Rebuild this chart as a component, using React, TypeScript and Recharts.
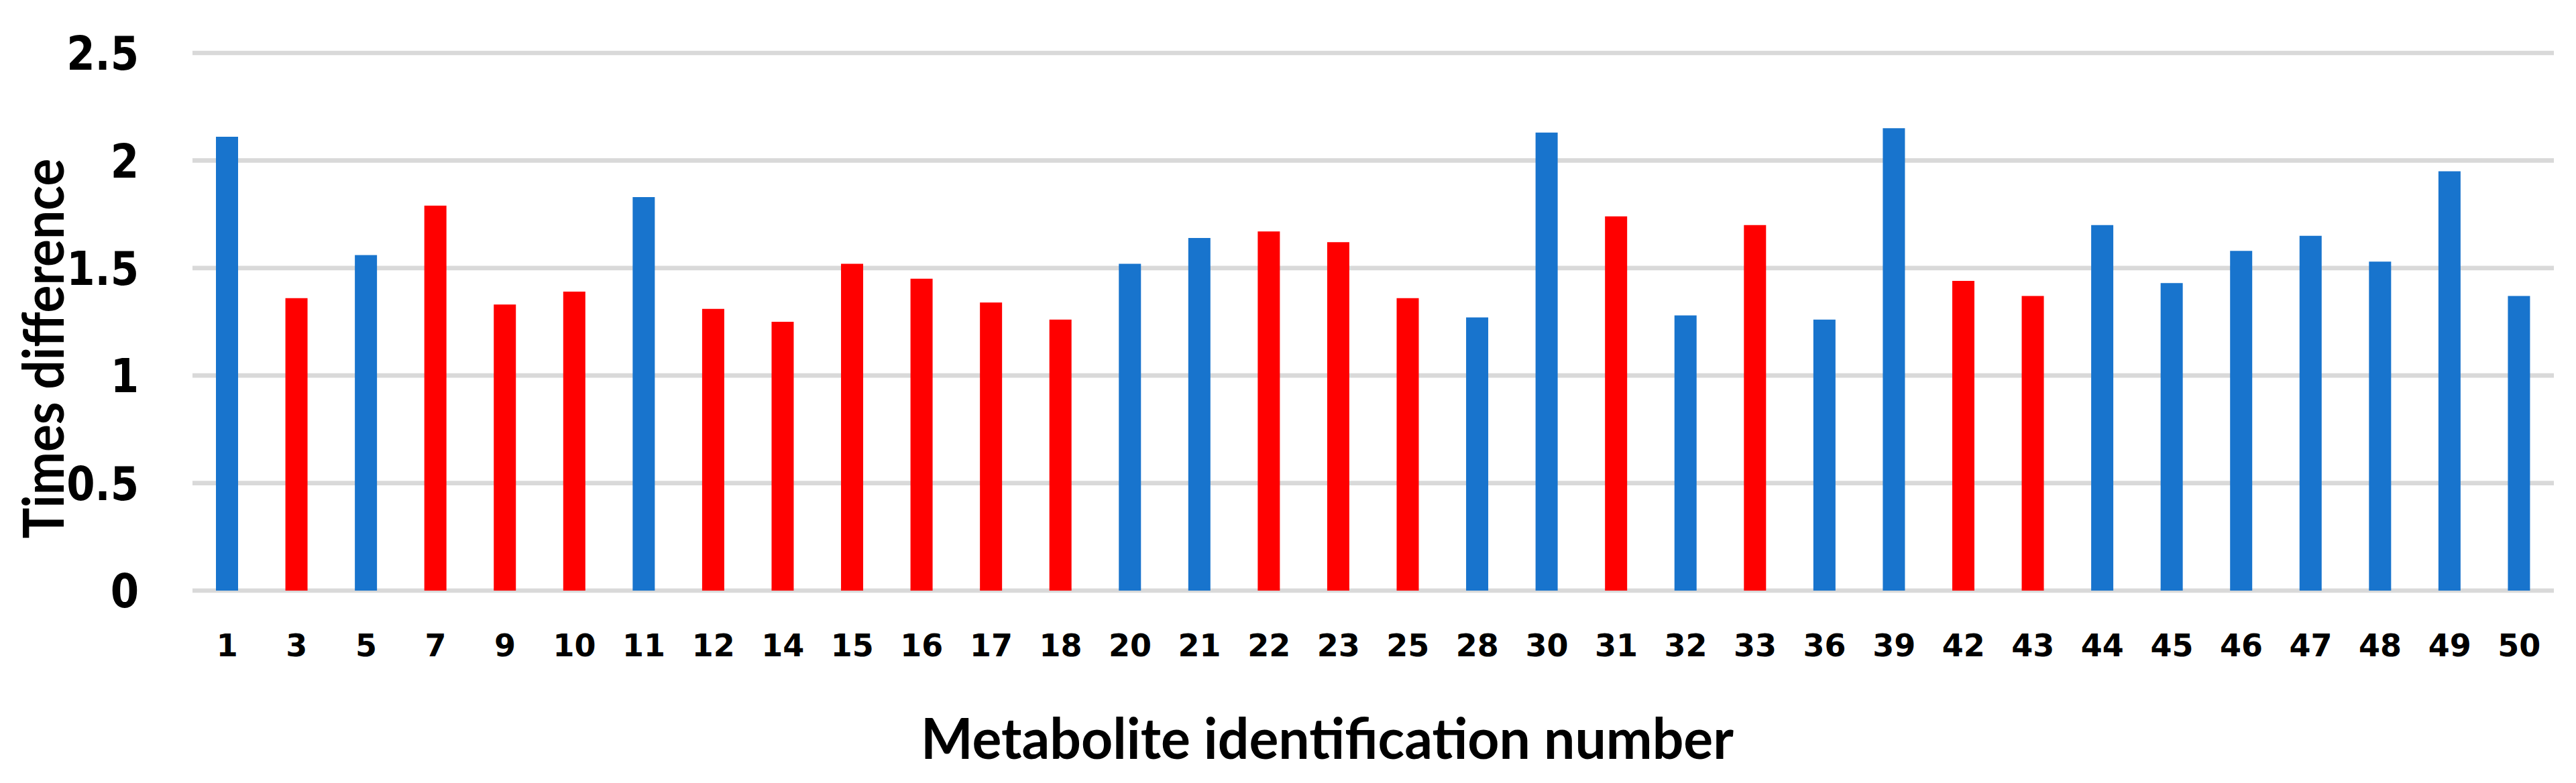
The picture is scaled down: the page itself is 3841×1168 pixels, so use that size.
import { Bar, BarChart, CartesianGrid, Cell, Label, XAxis, YAxis } from 'recharts';

const metaboliteIds = [
  '1', '3', '5', '7', '9', '10', '11', '12', '14', '15', '16', '17', '18', '20', '21', '22', '23',
  '25', '28', '30', '31', '32', '33', '36', '39', '42', '43', '44', '45', '46', '47', '48', '49', '50',
];

const timesDifference = [
  2.11, 1.36, 1.56, 1.79, 1.33, 1.39, 1.83, 1.31, 1.25, 1.52, 1.45, 1.34, 1.26, 1.52, 1.64, 1.67, 1.62,
  1.36, 1.27, 2.13, 1.74, 1.28, 1.7, 1.26, 2.15, 1.44, 1.37, 1.7, 1.43, 1.58, 1.65, 1.53, 1.95, 1.37,
];

// 'b' = blue bar, 'r' = red bar
const barGroup = [
  'b', 'r', 'b', 'r', 'r', 'r', 'b', 'r', 'r', 'r', 'r', 'r', 'r', 'b', 'b', 'r', 'r',
  'r', 'b', 'b', 'r', 'b', 'r', 'b', 'b', 'r', 'r', 'b', 'b', 'b', 'b', 'b', 'b', 'b',
];

const yTicks = [0, 0.5, 1, 1.5, 2, 2.5];

const COLORS: Record<string, string> = { b: '#1874cd', r: '#ff0000' };

const data = metaboliteIds.map((id, i) => ({ id, value: timesDifference[i], group: barGroup[i] }));

const tickFont = { fontFamily: '"DejaVu Sans", Verdana, sans-serif', fontWeight: 'bold', fill: '#000' };
const titleFont = { fontFamily: 'Lato, "Open Sans", sans-serif', fontWeight: 'bold', fill: '#000' };

// y tick labels: wide bold digits, squeezed a little horizontally
function YTick(props: any) {
  const { x, y, payload } = props;
  return (
    <text
      x={0}
      y={0}
      dy="0.36em"
      transform={`translate(${x},${y}) scale(0.87,1)`}
      textAnchor="end"
      fontSize={70}
      {...tickFont}
    >
      {payload.value}
    </text>
  );
}

export default function App() {
  return (
    <div style={{ position: 'absolute', left: 0, top: 0, background: '#fff' }}>
      <BarChart width={3841} height={1168} data={data} margin={{ top: 79, right: 33, bottom: 0, left: 0 }}>
        <CartesianGrid vertical={false} stroke="#d9d9d9" strokeWidth={6.7} />
        <XAxis
          dataKey="id"
          interval={0}
          height={287}
          axisLine={false}
          tickLine={false}
          tickSize={0}
          tickMargin={65}
          tick={{ ...tickFont, fontSize: 46 }}
        >
          <Label
            content={() => (
              <text
                x={1979}
                y={1132}
                textAnchor="middle"
                fontSize={84}
                textLength={1212}
                lengthAdjust="spacingAndGlyphs"
                {...titleFont}
              >
                Metabolite identification number
              </text>
            )}
          />
        </XAxis>
        <YAxis
          domain={[0, 2.5]}
          ticks={yTicks}
          width={287}
          axisLine={false}
          tickLine={false}
          tickSize={0}
          tickMargin={80}
          tick={<YTick />}
        >
          <Label
            content={() => (
              <text
                x={95}
                y={520}
                transform="rotate(-90, 95, 520)"
                textAnchor="middle"
                fontSize={84}
                textLength={567}
                lengthAdjust="spacingAndGlyphs"
                {...titleFont}
              >
                Times difference
              </text>
            )}
          />
        </YAxis>
        <Bar dataKey="value" barSize={33} isAnimationActive={false}>
          {data.map((row) => (
            <Cell key={row.id} fill={COLORS[row.group]} />
          ))}
        </Bar>
      </BarChart>
    </div>
  );
}
